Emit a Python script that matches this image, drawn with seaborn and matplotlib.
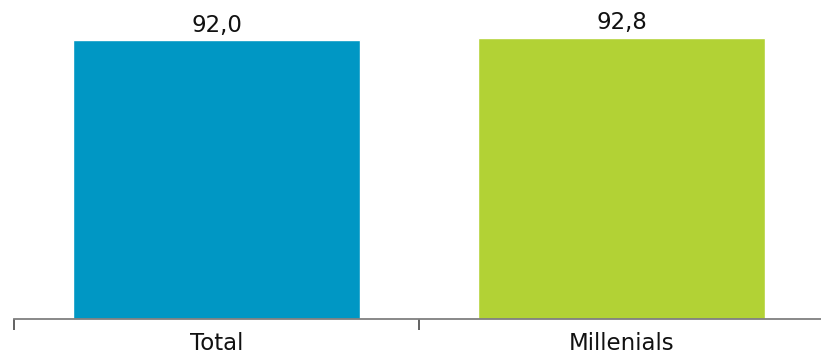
import matplotlib
matplotlib.use("Agg")
import matplotlib.pyplot as plt
import seaborn as sns
import pandas as pd

# data
categories = ["Total", "Millenials"]
values = [92.0, 92.8]
colors = ["#0097C4", "#B2D235"]

df = pd.DataFrame({"group": categories, "value": values})

sns.set_style("white")
plt.rcParams['font.family'] = ['DejaVu Sans']

fig = plt.figure(figsize=(8.21, 3.56), dpi=100)
# axes runs slightly past the right edge of the figure, like the original
ax = fig.add_axes([14/821, 37/356, 810/821, 303/356])

sns.barplot(data=df, x="group", y="value", hue="group", palette=colors,
            width=0.709, legend=False, ax=ax, saturation=1)

for i, v in enumerate(values):
    ax.text(i, v + 1.2, f"{v:.1f}".replace(".", ","), ha="center", va="bottom",
            fontsize=16.5, color="#111111")

ax.set_xlim(-0.5, 1.5)
ax.set_ylim(0, 100)
ax.set_xlabel("")
ax.set_ylabel("")
ax.set_yticks([])
for s in ["top", "right", "left"]:
    ax.spines[s].set_visible(False)
ax.spines["bottom"].set_color("#7f7f7f")
ax.spines["bottom"].set_linewidth(1.3)

ax.tick_params(axis="x", which="major", length=0, labelsize=16.5, pad=9,
               labelcolor="#111111")
ax.set_xticks([-0.5, 0.5], minor=True)
ax.tick_params(axis="x", which="minor", bottom=True, length=8, width=1.3,
               color="#555555")

fig.savefig("out.png", dpi=100)
